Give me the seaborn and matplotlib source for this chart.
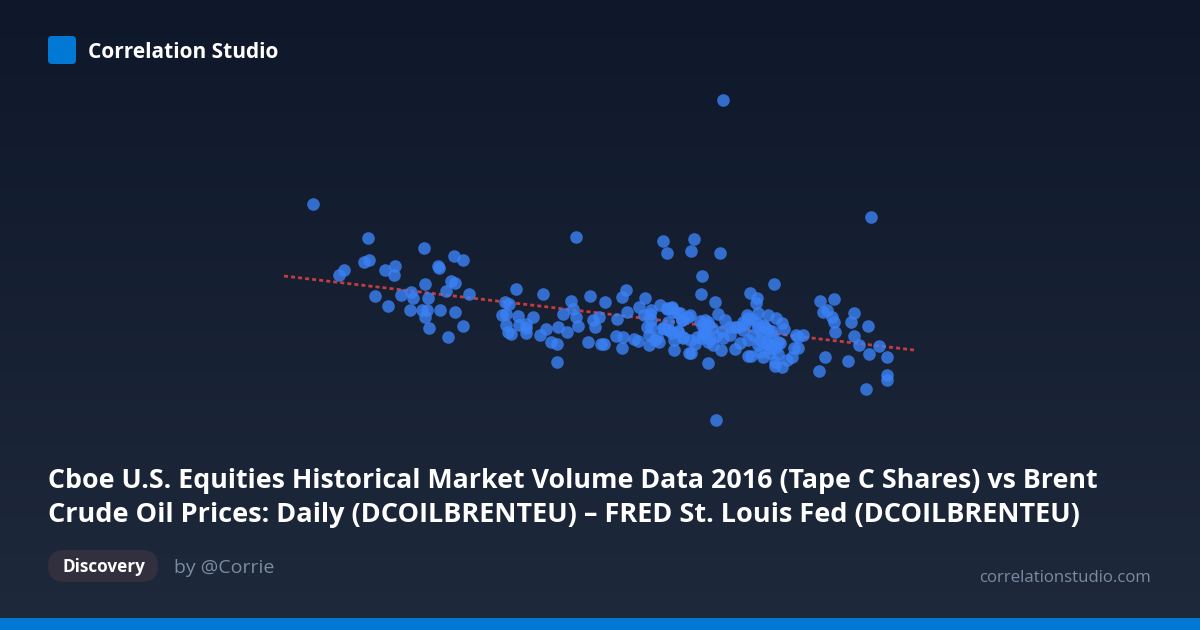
import matplotlib
matplotlib.use('Agg')
import matplotlib.pyplot as plt
from matplotlib.patches import FancyBboxPatch, Rectangle
import numpy as np
import pandas as pd
import seaborn as sns

brand = 'Correlation Studio'
title_lines = ['Cboe U.S. Equities Historical Market Volume Data 2016 (Tape C Shares) vs Brent',
               'Crude Oil Prices: Daily (DCOILBRENTEU) – FRED St. Louis Fed (DCOILBRENTEU)']
tag = 'Discovery'
author = 'by @Corrie'
site = 'correlationstudio.com'

# no axis on the card, so values are read in picture units
x_left = [312.7, 368.3, 424.3, 454, 462.7, 363.7, 368.7, 344, 339.3, 384.7, 394.7, 394.3, 438.3, 439,
          424.7, 451.3, 455.3, 446.3, 469, 374.7, 401, 411.3, 413.3, 428, 388.3, 410.3, 422, 427.3,
          424.7, 440.3, 455.3, 429.3, 463, 448]
y_left = [204.3, 238, 247.7, 255.7, 260.3, 262, 259.7, 270, 274.7, 269.7, 266.3, 274.7, 266.3, 268,
          283.7, 280.7, 283.3, 291.3, 294, 295.7, 295.3, 292.3, 298, 298, 306, 310, 310.3, 310,
          317, 310, 312.3, 327.7, 326.3, 337]
x_mid = [505.3, 508.7, 502, 506, 506, 508, 510.7, 575.7, 663, 667.3, 516.3, 542.7, 626.3, 622, 590,
         570.7, 605, 645, 573.3, 563, 576, 533.3, 518.3, 519, 525.7, 525.7, 525.7, 546, 540.3, 558,
         567, 551.3, 557, 557, 578.3, 593.3, 595.3, 599, 616.7, 627, 639, 588.3, 600.7, 604, 616,
         622.7, 621.7, 633.7, 638.3, 649, 659.3, 674, 674, 689, 682.7, 660.3]
y_mid = [301.7, 303.7, 314.7, 314, 324.7, 332, 333.7, 236.7, 240.7, 253.3, 289.3, 294, 290.3, 297, 296.3,
         301, 302.3, 297.7, 309.3, 314.3, 316.7, 316.7, 316, 325, 324, 328.3, 333, 329, 335, 327.3,
         331.7, 341.7, 344, 362, 326, 320, 327, 316.7, 319.3, 312.3, 306.7, 342.3, 343.7, 344.3, 336,
         336.7, 347.7, 338.7, 341, 344.7, 341.7, 350.3, 340, 352.7, 337.3, 304.7]
x_dense = [644.3, 651.3, 650, 650.7, 646.7, 651.3, 649.3, 656.7, 662.7, 668.3, 668.3, 671.7, 678.3,
           666.7, 671.7, 673.3, 680, 681.7, 688.3, 701, 715, 773.7, 749.7, 756.7, 756.3, 690, 718,
           666.7, 671.7, 678.3, 681.7, 705, 708.3, 701.7, 705, 725, 730, 743.3, 746.7, 758.3, 768.3,
           775.7, 743.3, 756.7, 763.3, 768.3, 782.3, 784, 753.3, 761.7, 771.7, 766.7, 778.3, 723.3,
           730, 696.7, 701.7, 708.3, 713.3, 695, 691, 720.7, 708.3, 683.3, 690, 669.3, 678.3, 663.3,
           655, 735, 740, 747.7, 748.3, 750.7, 760, 763.3, 770, 778.3, 775, 781.7, 786.7, 791.7, 775,
           794, 798.3, 798.3, 802.7, 795.7,
           708, 712, 703, 700, 716, 722, 745, 738, 752, 758, 765, 772, 760, 768, 776, 780, 770, 758,
           704, 710, 748, 735]
y_dense = [314.7, 310, 314, 320, 326.7, 327.3, 335, 336.7, 328.3, 321.7, 330, 333.3, 330.7,
           309.3, 307.3, 311.7, 313.3, 320, 316.7, 294.3, 302, 284, 293.3, 298.3, 302.7, 315, 314,
           308.3, 308.3, 313.3, 320, 320, 321.7, 325, 330, 320, 326.7, 330, 315, 313.3, 315,
           317.7, 321.7, 323.3, 325, 330, 323.3, 329.3, 335, 333.3, 335, 341.7, 341.7, 338.3,
           335, 336.7, 338.3, 341.7, 345, 344, 352.7, 350, 362.7, 337.7, 340, 330, 331.7, 328.3,
           340, 349, 342.7, 340, 355.7, 355.7, 351.7, 356.7, 353.3, 354, 366, 367.3, 360, 356.7, 361.7,
           348.3, 348.3, 336.7, 335, 335,
           325, 328, 333, 321, 336, 331, 324, 327, 319, 328, 327, 331, 340, 344, 347, 343, 348, 345,
           335, 339, 318, 327]
x_right = [820.3, 833.7, 853.7, 851, 867.7, 822.7, 826.7, 832, 834.3, 835.3, 854.3, 858.7, 879, 868.7,
           887, 825.3, 848.3, 819, 886.7, 887.3, 866.3]
y_right = [301.3, 298.7, 312.7, 322.3, 325.7, 312, 310, 316.7, 322, 332.3, 336.3, 345.3, 346.3, 353.7,
           356.7, 356.7, 361, 371.3, 374.7, 379.7, 389.3]
x_outliers = [723, 871, 716, 694, 691, 720, 702]
y_outliers = [100, 217, 420, 239, 251, 253, 276]
trend_x = [284, 914]
trend_y = [276, 350]

points = pd.DataFrame({
    'x': x_left + x_mid + x_dense + x_right + x_outliers,
    'y': y_left + y_mid + y_dense + y_right + y_outliers,
})
trend = pd.DataFrame({'x': trend_x, 'y': trend_y})

plt.rcParams['font.family'] = ['Open Sans', 'DejaVu Sans']

fig = plt.figure(figsize=(12, 6.3), dpi=100)
ax = fig.add_axes([0, 0, 1, 1])

# card background, dark navy fading down
gradient = np.linspace(0, 1, 256).reshape(-1, 1)
top = np.array([15, 24, 43]) / 255
bottom = np.array([30, 41, 59]) / 255
ax.imshow(top + gradient[..., None] * (bottom - top), extent=[0, 1200, 630, 0], aspect='auto', zorder=0)

sns.scatterplot(data=points, x='x', y='y', ax=ax, s=82, color='#3b82f6', alpha=0.8, linewidth=0, zorder=3)
sns.lineplot(data=trend, x='x', y='y', ax=ax, color='#ef4444', alpha=0.8, linewidth=2,
             linestyle=(0, (1.45, 1.1)), zorder=2)

ax.set_xlim(0, 1200)
ax.set_ylim(630, 0)
ax.axis('off')

ax.add_patch(FancyBboxPatch((52, 40), 20, 20, boxstyle='round,pad=4,rounding_size=4', color='#0078d4', lw=0, zorder=4))
ax.add_patch(Rectangle((0, 618), 1200, 12, color='#0078d4', lw=0, zorder=4))
ax.add_patch(FancyBboxPatch((62, 564), 82, 4, boxstyle='round,pad=14,rounding_size=16', color='#322f3f', lw=0, zorder=4))

ax.text(88, 52, brand, color='white', fontsize=15, fontweight='bold', va='center', zorder=5)
ax.text(48, 481, title_lines[0], color='white', fontsize=19.3, fontweight='bold', va='center', zorder=5)
ax.text(48, 515, title_lines[1], color='white', fontsize=19.5, fontweight='bold', va='center', zorder=5)
ax.text(62, 567.5, tag, color='white', fontsize=12.3, fontweight='bold', va='center', zorder=5)
ax.text(174, 568, author, color='#7c8ba3', fontsize=14, va='center', zorder=5)
ax.text(1151, 578, site, color='#7c8ba3', fontsize=12.1, va='center', ha='right', zorder=5)

fig.savefig('out.png', dpi=100)
